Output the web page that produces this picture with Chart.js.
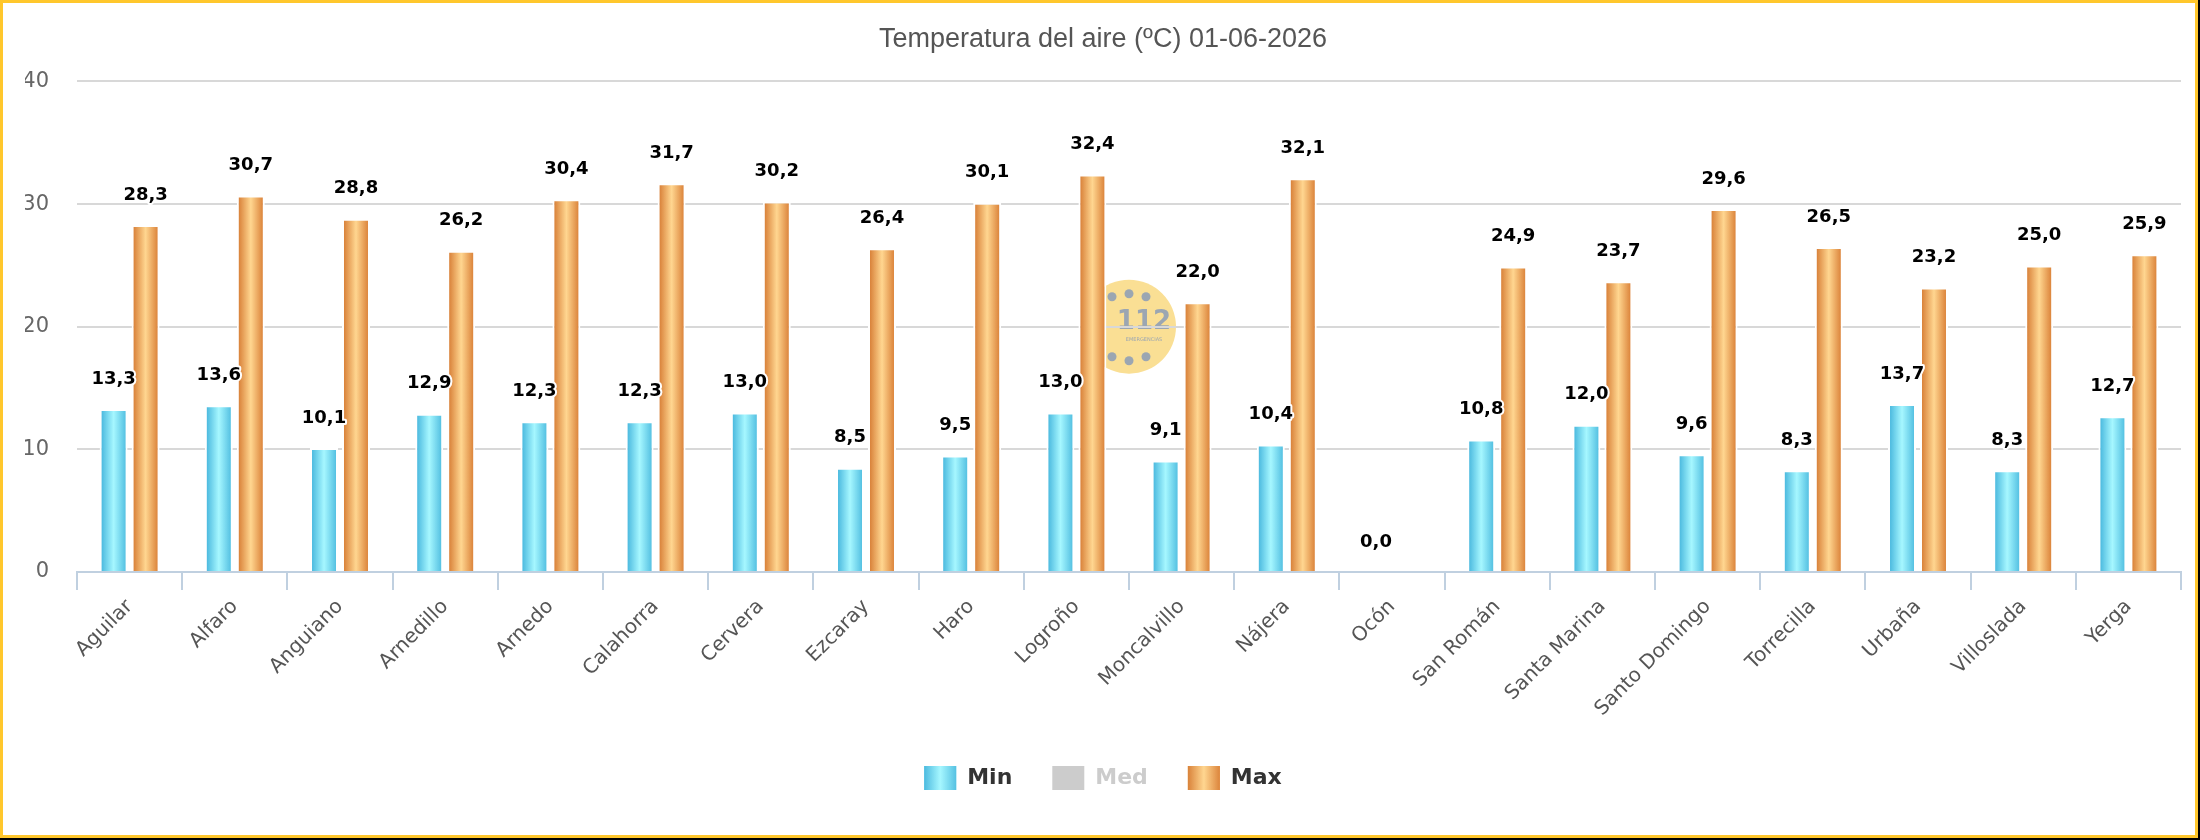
<!DOCTYPE html>
<html lang="es">
<head>
  <meta charset="UTF-8">
  <title>Temperatura del aire</title>
  <script src="https://cdn.jsdelivr.net/npm/chart.js"></script>
  <style>
    html, body {
      margin: 0;
      padding: 0;
      background: #000;
    }

    #wrap {
      position: absolute;
      left: 0;
      top: 0;
      width: 2198px;
      height: 838px;
      box-sizing: border-box;
      border: 3px solid #ffc72c;
      background: #fff;
    }
  </style>
</head>
<body>
  <div id="wrap"><canvas id="tempChart"></canvas></div>

  <script>
    // datos
    const estaciones = ['Aguilar', 'Alfaro', 'Anguiano', 'Arnedillo', 'Arnedo', 'Calahorra', 'Cervera',
      'Ezcaray', 'Haro', 'Logroño', 'Moncalvillo', 'Nájera', 'Ocón', 'San Román', 'Santa Marina',
      'Santo Domingo', 'Torrecilla', 'Urbaña', 'Villoslada', 'Yerga'];
    const minimas = [13.3, 13.6, 10.1, 12.9, 12.3, 12.3, 13.0, 8.5, 9.5, 13.0, 9.1, 10.4, 0.0, 10.8, 12.0,
      9.6, 8.3, 13.7, 8.3, 12.7];
    const medias = [];
    const maximas = [28.3, 30.7, 28.8, 26.2, 30.4, 31.7, 30.2, 26.4, 30.1, 32.4, 22.0, 32.1, null, 24.9, 23.7,
      29.6, 26.5, 23.2, 25.0, 25.9];
    const yTicks = [0, 10, 20, 30, 40];
    const titulo = 'Temperatura del aire (ºC) 01-06-2026';

    const stopsMin = ['#4cbadf', '#a6f7ff', '#55c1e2'];
    const stopsMax = ['#d9823a', '#ffd690', '#dc853c'];

    function hGradient(ctx, x0, x1, stops) {
      const g = ctx.createLinearGradient(x0, 0, x1, 0);
      g.addColorStop(0, stops[0]);
      g.addColorStop(0.5, stops[1]);
      g.addColorStop(1, stops[2]);
      return g;
    }

    // logo de fondo (112), se pinta antes de la rejilla
    const logoPlugin = {
      id: 'logo112',
      beforeDraw(chart) {
        const ctx = chart.ctx;
        const a = chart.chartArea;
        const cx = (a.left + a.right) / 2;
        const cy = (a.top + a.bottom) / 2;
        ctx.save();
        ctx.fillStyle = '#fadf94';
        ctx.beginPath();
        ctx.arc(cx, cy, 47, 0, Math.PI * 2);
        ctx.fill();
        ctx.fillStyle = '#9ba6b2';
        [[-17, -30], [0, -33], [17, -30], [-17, 30], [0, 34], [17, 30]].forEach(([dx, dy]) => {
          ctx.beginPath();
          ctx.arc(cx + dx, cy + dy, 4.5, 0, Math.PI * 2);
          ctx.fill();
        });
        ctx.textAlign = 'center';
        ctx.textBaseline = 'middle';
        ctx.font = 'bold 26px "DejaVu Sans"';
        ctx.fillText('112', cx + 15, cy - 4);
        ctx.font = '5px "DejaVu Sans"';
        ctx.fillText('EMERGENCIAS', cx + 15, cy + 13);
        ctx.restore();
      }
    };

    // degradado horizontal en cada barra
    const gradientPlugin = {
      id: 'barGradient',
      beforeDatasetsDraw(chart) {
        const ctx = chart.ctx;
        chart.data.datasets.forEach((ds, i) => {
          const meta = chart.getDatasetMeta(i);
          if (meta.hidden || ds.hidden) return;
          meta.data.forEach(bar => {
            const half = bar.width / 2 - 2;
            const g = hGradient(ctx, bar.x - half, bar.x + half, ds.stops);
            bar.options = Object.assign({}, bar.options, { backgroundColor: g });
          });
        });
      }
    };

    // etiquetas de valor sobre las barras + cajas de la leyenda
    const labelPlugin = {
      id: 'valueLabels',
      afterDatasetsDraw(chart) {
        const ctx = chart.ctx;
        ctx.save();
        ctx.font = 'bold 18px "DejaVu Sans"';
        ctx.textAlign = 'center';
        ctx.textBaseline = 'middle';
        ctx.lineJoin = 'round';
        chart.data.datasets.forEach((ds, i) => {
          const meta = chart.getDatasetMeta(i);
          if (meta.hidden || ds.hidden) return;
          meta.data.forEach((bar, j) => {
            const v = ds.data[j];
            if (v === null || v === undefined) return;
            const txt = v.toFixed(1).replace('.', ',');
            const y = bar.y - 30;
            ctx.lineWidth = 4;
            ctx.strokeStyle = '#ffffff';
            ctx.strokeText(txt, bar.x, y);
            ctx.fillStyle = '#000000';
            ctx.fillText(txt, bar.x, y);
          });
        });
        ctx.restore();
      },
      afterDraw(chart) {
        const ctx = chart.ctx;
        const legend = chart.legend;
        if (!legend || !legend.legendHitBoxes) return;
        legend.legendHitBoxes.forEach((hb, i) => {
          const ds = chart.data.datasets[i];
          if (ds.hidden) return;
          ctx.fillStyle = hGradient(ctx, hb.left, hb.left + 32, ds.stops);
          ctx.fillRect(hb.left, hb.top, 32, 24);
        });
      }
    };

    Chart.defaults.font.family = '"DejaVu Sans", sans-serif';

    const ctx = document.getElementById('tempChart').getContext('2d');
    new Chart(ctx, {
      type: 'bar',
      data: {
        labels: estaciones,
        datasets: [
          {
            label: 'Min',
            data: minimas,
            stops: stopsMin,
            backgroundColor: '#7ad8ee',
            borderColor: '#ffffff',
            borderWidth: 2
          },
          {
            label: 'Med',
            data: medias,
            hidden: true,
            backgroundColor: '#cccccc'
          },
          {
            label: 'Max',
            data: maximas,
            stops: stopsMax,
            backgroundColor: '#eeac62',
            borderColor: '#ffffff',
            borderWidth: 2
          }
        ]
      },
      options: {
        responsive: true,
        maintainAspectRatio: false,
        animation: false,
        events: [],
        categoryPercentage: 0.608,
        barPercentage: 0.875,
        layout: {
          padding: { left: 22, right: 14, top: 0, bottom: 35 }
        },
        plugins: {
          title: {
            display: true,
            text: titulo,
            color: '#555555',
            font: { family: '"Liberation Sans", sans-serif', size: 27, weight: 'normal' },
            padding: { top: 20, bottom: 26 }
          },
          tooltip: { enabled: false },
          legend: {
            display: true,
            position: 'bottom',
            labels: {
              boxWidth: 32,
              boxHeight: 24,
              padding: 40,
              font: { size: 22, weight: 'bold' },
              color: '#333333',
              generateLabels(chart) {
                return chart.data.datasets.map((ds, i) => ({
                  text: ds.label,
                  fillStyle: ds.hidden ? '#cccccc' : ds.backgroundColor,
                  strokeStyle: 'rgba(0,0,0,0)',
                  lineWidth: 0,
                  fontColor: ds.hidden ? '#cccccc' : '#333333',
                  hidden: false,
                  datasetIndex: i
                }));
              }
            }
          }
        },
        scales: {
          x: {
            grid: {
              drawOnChartArea: false,
              drawTicks: true,
              tickLength: 18,
              color: '#c0d0e0',
              lineWidth: 2
            },
            border: { display: true, color: '#c0d0e0', width: 2 },
            ticks: {
              autoSkip: false,
              minRotation: 45,
              maxRotation: 45,
              padding: 5,
              color: '#555555',
              font: { size: 20 }
            },
            afterFit(scale) {
              scale.height = 154;
              scale.paddingLeft = 0;
              scale.paddingRight = 0;
            }
          },
          y: {
            min: 0,
            max: 40,
            afterBuildTicks(scale) {
              scale.ticks = yTicks.map(v => ({ value: v }));
            },
            afterFit(scale) {
              scale.width = 52;
            },
            grid: {
              drawTicks: false,
              lineWidth: 2,
              color: c => (c.tick && c.tick.value === 0 ? 'rgba(0,0,0,0)' : '#d8d8d8')
            },
            border: { display: false },
            ticks: {
              padding: 28,
              color: '#666666',
              font: { size: 21 }
            }
          }
        }
      },
      plugins: [logoPlugin, gradientPlugin, labelPlugin]
    });
  </script>
</body>
</html>
